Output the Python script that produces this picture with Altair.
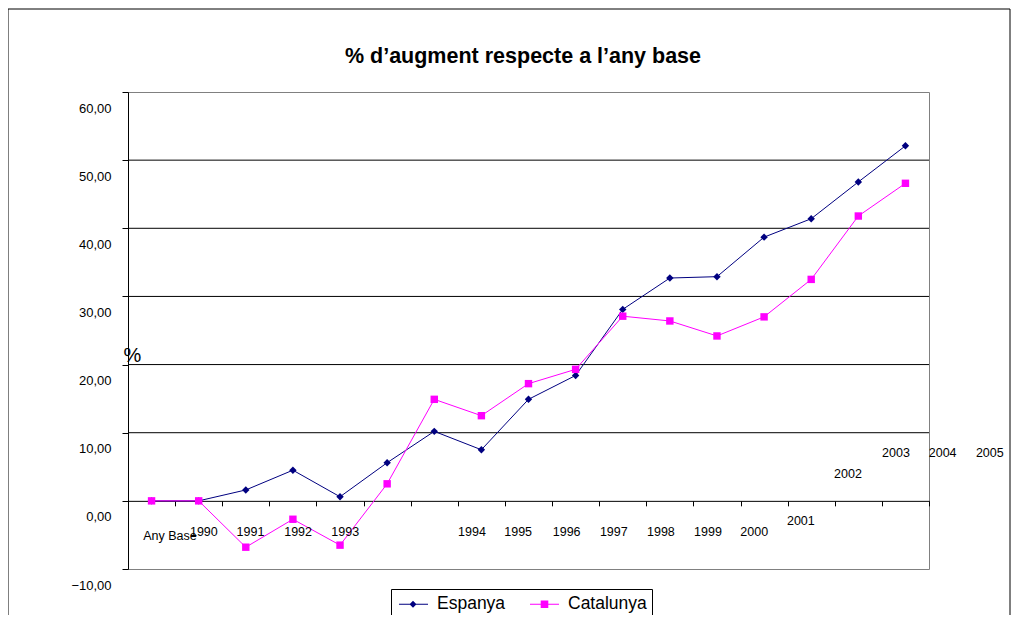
import altair as alt
import pandas as pd

# ---------------- data ----------------
series_names = ["Espanya", "Catalunya"]
series_colors = ["#000080", "#FF00FF"]
series_markers = ["diamond", "square"]
point_index = list(range(17))
espanya = [0, 0, 1.6, 4.5, 0.6, 5.6, 10.2, 7.5, 14.9, 18.4, 28.1, 32.7, 32.9, 38.7, 41.4, 46.8, 52.1]
catalunya = [0, 0, -6.8, -2.7, -6.5, 2.5, 14.9, 12.5, 17.2, 19.3, 27.1, 26.4, 24.2, 27.0, 32.5, 41.8, 46.6]

# category labels as they appear (misplaced, as in the original)
cat_labels = ["Any Base", "1990", "1991", "1992", "1993", "1994", "1995", "1996", "1997",
              "1998", "1999", "2000", "2001", "2002", "2003", "2004", "2005"]
cat_label_x = [0.39, 1.11, 2.10, 3.11, 4.11, 6.80, 7.78, 8.81, 9.81, 10.81, 11.81, 12.79,
               13.78, 14.78, 15.80, 16.79, 17.79]
cat_label_y = [-5.16, -4.58, -4.58, -4.58, -4.58, -4.58, -4.58, -4.58, -4.58, -4.58, -4.58,
               -4.58, -2.97, 3.9, 6.97, 6.97, 6.97]

y_ticks = [-10, 0, 10, 20, 30, 40, 50, 60]
grid_values = [10, 20, 30, 40, 50]
x_ticks = [i + 0.5 for i in range(-1, 17)]

title_text = "% d\u2019augment respecte a l\u2019any base"

FONT = "Liberation Sans"
W, H = 801, 477

df = pd.DataFrame({
    "idx": point_index * 2,
    "value": espanya + catalunya,
    "series": [series_names[0]] * len(espanya) + [series_names[1]] * len(catalunya),
})
labels_df = pd.DataFrame({"lab": cat_labels, "lx": cat_label_x, "ly": cat_label_y})
grid_df = pd.DataFrame({"g": grid_values})
one = pd.DataFrame({"_": [0]})

x_scale = alt.Scale(domain=[-0.5, 16.5], nice=False, zero=False)
y_scale = alt.Scale(domain=[-10, 60], nice=False, zero=False)

x_enc = alt.X("idx:Q", scale=x_scale, axis=alt.Axis(
    values=x_ticks, labels=False, grid=False, title=None, domainColor="black",
    tickColor="black", tickSize=5, offset=-H * 10 / 70))
y_enc = alt.Y("value:Q", scale=y_scale, axis=alt.Axis(
    values=y_ticks, grid=False, domainColor="black", tickColor="black", tickSize=6,
    labelExpr="replace(format(datum.value, '.2f'), '.', ',')",
    labelOffset=16, labelPadding=11, labelFontSize=13, labelFont=FONT, labelColor="black",
    title="%", titleAngle=0, titleX=-5, titleY=263, titleAlign="left", titleBaseline="middle",
    titleFontSize=20, titleFontWeight="normal", titleFont=FONT, titleColor="black"))

color_scale = alt.Scale(domain=series_names, range=series_colors)

# legend symbols: thin bar (the line) + marker, as filled svg paths (unit = half symbol size)
legend_paths = ["M-0.7,-0.05H2.2V0.05H-0.7ZM0.7,-0.35L1.05,0L0.7,0.35L0.35,0Z",
                "M-0.7,-0.05H2.2V0.05H-0.7ZM0.37,-0.38H1.13V0.38H0.37Z"]
leg = alt.Legend(title=None)

legend_layer = alt.Chart(df).transform_filter("false").mark_point(filled=True, opacity=1).encode(
    x=x_enc, y=y_enc,
    color=alt.Color("series:N", scale=color_scale, legend=leg),
    shape=alt.Shape("series:N", scale=alt.Scale(domain=series_names, range=legend_paths), legend=leg),
)

frame = alt.Chart(one).mark_rect(fill=None, stroke="black", strokeWidth=1).encode(
    x=alt.value(-120), x2=alt.value(882), y=alt.value(-83), y2=alt.value(600))

grid = alt.Chart(grid_df).mark_rule(color="black", strokeWidth=1).encode(
    y=alt.Y("g:Q", scale=y_scale))

lines = alt.Chart(df).mark_line(strokeWidth=1).encode(
    x="idx:Q", y="value:Q",
    color=alt.Color("series:N", scale=color_scale, legend=leg))

point_layers = [
    alt.Chart(df).transform_filter(alt.datum.series == name).mark_point(
        filled=True, opacity=1, shape=shape, color=col, size=55).encode(x="idx:Q", y="value:Q")
    for name, col, shape in zip(series_names, series_colors, series_markers)
]

cat_text = alt.Chart(labels_df).mark_text(fontSize=12.5, font=FONT, color="black",
                                          align="center", baseline="middle").encode(
    x=alt.X("lx:Q", scale=x_scale), y=alt.Y("ly:Q", scale=y_scale), text="lab:N")

title = alt.Chart(one).mark_text(text=title_text, fontSize=21.5, fontWeight="bold", font=FONT,
                                 color="black", align="center", baseline="middle").encode(
    x=alt.value(395), y=alt.value(-35))

chart = alt.layer(legend_layer, frame, grid, lines, *point_layers, cat_text, title).properties(
    width=W, height=H,
    padding={"left": 120, "top": 84, "right": 82, "bottom": 46},
    autosize=alt.AutoSizeParams(type="none"),
).configure_view(stroke="#808080", strokeWidth=1).configure_legend(
    orient="none", legendX=263, legendY=497, direction="horizontal",
    strokeColor="black", fillColor="white", padding=5, cornerRadius=0,
    symbolSize=400, symbolStrokeWidth=0, labelFontSize=17.5, labelFont=FONT, labelColor="black",
    labelOffset=21, columnPadding=21, labelBaseline="middle"
)

chart.save("out.html", embed_options={"renderer": "svg", "actions": False})
